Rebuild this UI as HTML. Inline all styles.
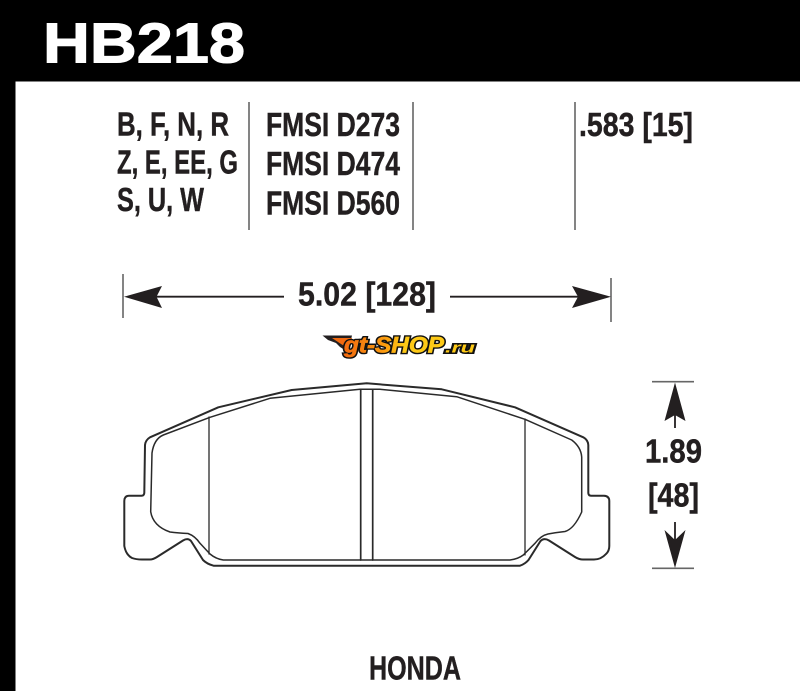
<!DOCTYPE html>
<html><head><meta charset="utf-8"><style>
html,body{margin:0;padding:0;background:#fff}
svg{display:block}
text{font-family:"Liberation Sans",sans-serif;font-weight:700;fill:#231f20}
.t{stroke:#231f20;stroke-width:.45}
</style></head><body>
<svg width="800" height="691" viewBox="0 0 800 691" xmlns="http://www.w3.org/2000/svg">
<defs><linearGradient id="g" gradientUnits="userSpaceOnUse" x1="343" x2="445" y1="0" y2="0"><stop offset="0" stop-color="#f26a10"/><stop offset=".4" stop-color="#fb9a0f"/><stop offset=".6" stop-color="#fdc916"/><stop offset="1" stop-color="#fdc916"/></linearGradient></defs>
<rect width="800" height="691" fill="#fff"/>
<rect width="800" height="81.5" fill="#000"/>
<rect width="15.5" height="691" fill="#000"/>
<text x="43" y="62.5" font-size="57" textLength="202" lengthAdjust="spacingAndGlyphs" style="fill:#fff;stroke:#fff;stroke-width:1.1">HB218</text>

<g font-size="33.5" class="t">
<text x="117" y="135.5" textLength="112" lengthAdjust="spacingAndGlyphs">B, F, N, R</text>
<text x="117" y="173.5" textLength="121" lengthAdjust="spacingAndGlyphs">Z, E, EE, G</text>
<text x="117" y="211" textLength="87" lengthAdjust="spacingAndGlyphs">S, U, W</text>
<text x="266" y="136" textLength="134" lengthAdjust="spacingAndGlyphs">FMSI D273</text>
<text x="266" y="175" textLength="134" lengthAdjust="spacingAndGlyphs">FMSI D474</text>
<text x="266" y="214.5" textLength="134" lengthAdjust="spacingAndGlyphs">FMSI D560</text>
<text x="579" y="136" textLength="114" lengthAdjust="spacingAndGlyphs">.583 [15]</text>
<text x="298" y="305.5" textLength="138" lengthAdjust="spacingAndGlyphs">5.02 [128]</text>
<text x="645" y="462.5" textLength="57" lengthAdjust="spacingAndGlyphs">1.89</text>
<text x="648" y="506.5" textLength="51" lengthAdjust="spacingAndGlyphs">[48]</text>
<text x="369" y="679.5" textLength="92" lengthAdjust="spacingAndGlyphs">HONDA</text>
</g>

<g stroke="#666" stroke-width="1.6" fill="none">
<path d="M249 102V230M413 102V230M575 102V230M123 274V318M611 278V322M652 381.7H694M652 568.3H694"/>
</g>

<g stroke="#231f20" stroke-width="1.8" fill="none">
<path d="M150 296.7H284M450 296.7H580M675 410V428M675 522V552"/>
</g>
<g fill="#231f20">
<path d="M124 296.7L162 286L156.5 296.7L162 308Z"/>
<path d="M611 296.7L572 286L578 296.7L572 308Z"/>
<path d="M675 382.5L685.5 421L675 415L664.5 421Z"/>
<path d="M675 568L685.5 530L675 540L664.5 530Z"/>
</g>

<!-- logo -->
<g>
<path d="M322.5 335.5L352 335.5L348 352L340 347L336 343L328 340Z" fill="#231f20"/>
<path d="M332 338L352 338L349 349L341 344Z" fill="#f26a10"/>
<text x="344" y="352.5" font-size="22" font-style="italic" textLength="100" lengthAdjust="spacingAndGlyphs" style="fill:#111;stroke:#111;stroke-width:3.6">gt-SHOP</text>
<text x="344" y="352.5" font-size="22" font-style="italic" textLength="100" lengthAdjust="spacingAndGlyphs" style="fill:url(#g);stroke:url(#g);stroke-width:.7">gt-SHOP</text>
<text x="445" y="352.5" font-size="15" font-style="italic" textLength="30" lengthAdjust="spacingAndGlyphs" style="fill:#111;stroke:#111;stroke-width:3">.ru</text>
<text x="445" y="352.5" font-size="15" font-style="italic" textLength="30" lengthAdjust="spacingAndGlyphs" style="fill:#fdc916">.ru</text>
</g>

<!-- pad -->
<g fill="none" stroke="#2a2a2a" stroke-linejoin="round" stroke-linecap="round">
<path stroke-width="2" d="M366.7 383.3L291.7 390L218.3 407.3L150 437.3Q145.5 440 145 445L144.3 493Q144 495.7 141.5 495.7H129Q124.3 496 124.3 501V546Q126 555 132 558Q136 559.5 142 559.5H150Q153 559.5 157 557L183 540.5Q188 537.5 191 541L203 560Q207 564 213.5 565.7H520Q525 564 528.5 560L540.5 541Q544 537.5 549 540.5L575 557Q579 559.5 583 559.5H594Q601 559.5 606 554Q609.3 551 609.3 546V501Q609.3 496 604 495.7H591Q588.5 495.7 588.3 493L588.3 445Q588 440 583.3 437.3L515 407.3L441.7 389.3Z"/>
<path stroke-width="1.5" d="M223.3 560H510Q518 559 523.3 555L535 543.3Q541 535.5 548 534Q556 532.5 565 531.5Q574 529 581.7 512V457Q581 447 571.7 440L525 419.3L456.7 396.7L380 389.3H360L270 398.3L210 417.3L163.3 435Q154 439 152 453L150.7 511.7Q153 526 170 532Q178 533 188 533.5Q195 536 200 543.3L210 554Q216 559 223.3 560Z"/>
<path stroke-width="1.3" d="M209 417V554M525 419V555"/>
<path stroke-width="1.7" d="M360.7 389.3V560M372.7 389.3V560"/>
</g>
</svg>
</body></html>
